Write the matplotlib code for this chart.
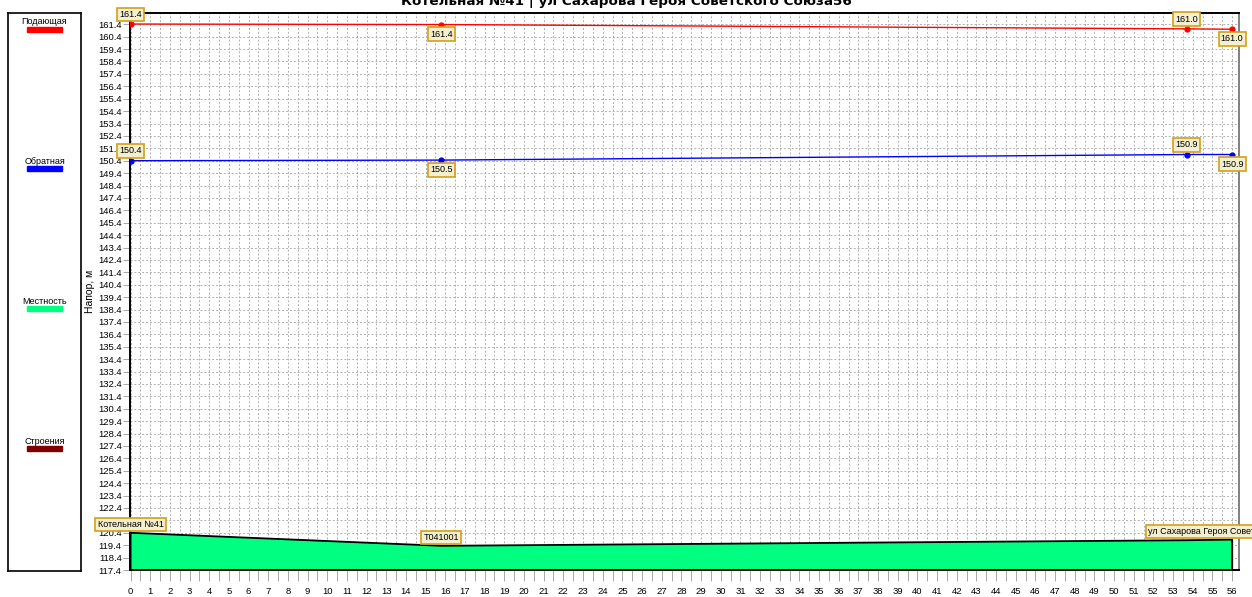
import numpy as np
import matplotlib.pyplot as plt
from matplotlib.ticker import MultipleLocator

plt.rcParams['font.family'] = ['Liberation Sans', 'DejaVu Sans']

# Data
title = "Котельная №41 | ул Сахарова Героя Советского Союза56"
x_pts = [0, 15.8, 53.7, 56]
supply = [161.42, 161.38, 161.03, 161.0]
supply_labels = ["161.4", "161.4", "161.0", "161.0"]
ret = [150.4, 150.45, 150.9, 150.9]
ret_labels = ["150.4", "150.5", "150.9", "150.9"]
ground_x = [0, 15.8, 53.7, 56]
ground = [120.4, 119.35, 119.8, 119.85]
ground_names = ["Котельная №41", "Т041001", "ул Сахарова Героя Советского Союза56"]
ground_name_x = [0, 15.8, 56]
ground_name_y = [120.4, 119.35, 119.85]
legend_names = ["Подающая", "Обратная", "Местность", "Строения"]
legend_colors = ["#ff0000", "#0000ff", "#00ff80", "#800000"]

W, H = 1252, 597
fig = plt.figure(figsize=(W / 100, H / 100), dpi=100)
ax = fig.add_axes([130 / W, 1 - 570 / H, (1239 - 130) / W, (570 - 12.5) / H])

box = dict(boxstyle="square,pad=0.25", fc="#f3efcf", ec="#d4a017", lw=1.2)

# Ground fill
ax.fill_between(ground_x, 117.4, ground, color="#00ff80", zorder=2)
ax.plot(ground_x + [56, 0, 0], ground + [117.4, 117.4, 120.4], color="black", lw=1.3, zorder=3)

# Pressure lines
ax.plot(x_pts, supply, color="#ff0000", lw=1.0, marker="o", ms=3.5, zorder=4)
ax.plot(x_pts, ret, color="#0000ff", lw=1.0, marker="o", ms=3.5, zorder=4)

for i, (x, y, t) in enumerate(zip(x_pts, supply, supply_labels)):
    dy = 7 if i % 2 == 0 else -7
    ax.annotate(t, (x, y), xytext=(0, dy), textcoords="offset points", ha="center",
                va="center", fontsize=6.5, bbox=box, zorder=6, annotation_clip=False)
for i, (x, y, t) in enumerate(zip(x_pts, ret, ret_labels)):
    dy = 7 if i % 2 == 0 else -7
    ax.annotate(t, (x, y), xytext=(0, dy), textcoords="offset points", ha="center",
                va="center", fontsize=6.5, bbox=box, zorder=6, annotation_clip=False)
for x, y, t in zip(ground_name_x, ground_name_y, ground_names):
    ax.annotate(t, (x, y), xytext=(0, 6), textcoords="offset points", ha="center",
                va="center", fontsize=6.5, bbox=box, zorder=6, annotation_clip=False)

ax.set_xlim(-0.03, 56.35)
ax.set_ylim(117.4, 162.35)
ax.xaxis.set_major_locator(MultipleLocator(1))
ax.xaxis.set_minor_locator(MultipleLocator(0.5))
ax.set_yticks(np.arange(117.4, 161.5, 1.0))
ax.set_yticklabels([f"{v:.1f}" for v in np.arange(117.4, 161.5, 1.0)])
ax.grid(which="major", color="#b0b0b0", lw=0.7, ls=(0, (2, 2)), zorder=1)
ax.grid(which="minor", axis="x", color="#b0b0b0", lw=0.7, ls=(0, (2, 2)), zorder=1)
ax.tick_params(axis="both", which="both", color="#a8a8a8", labelsize=6.8, width=0.7)
ax.tick_params(axis="x", which="both", length=8, pad=4)
ax.tick_params(axis="y", which="major", length=5, pad=1)
ax.set_ylabel("Напор, м", fontsize=7.5, labelpad=2)

for s in ["left", "bottom", "top"]:
    ax.spines[s].set_linewidth(1.4)
    ax.spines[s].set_color("black")
ax.spines["right"].set_color("#808080")
ax.spines["right"].set_linewidth(1.4)

fig.text(0.5, 1 - 4.5 / H, title, ha="center", va="baseline", fontsize=9.7,
         fontweight="bold", family="DejaVu Sans")

# Legend panel
lax = fig.add_axes([8 / W, 1 - 571 / H, 73 / W, (571 - 13) / H])
lax.set_xlim(0, 73)
lax.set_ylim(558, 0)
lax.set_xticks([])
lax.set_yticks([])
for s in lax.spines.values():
    s.set_linewidth(1.2)
legend_y = [8, 147, 287, 427]
for name, col, y in zip(legend_names, legend_colors, legend_y):
    lax.text(36.5, y + 1, name, ha="center", va="center", fontsize=6.5)
    lax.add_patch(plt.Rectangle((19, y + 6), 35, 5, color=col))

fig.savefig("out.png", dpi=100)
